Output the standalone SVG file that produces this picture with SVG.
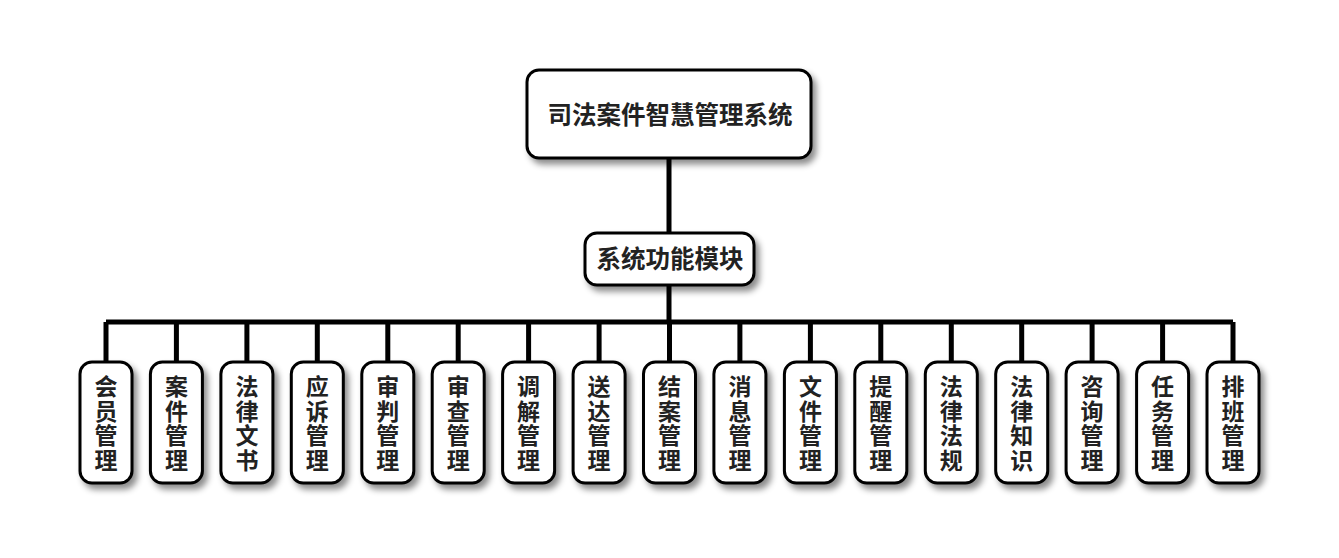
<svg xmlns="http://www.w3.org/2000/svg" width="1339" height="558" viewBox="0 0 1339 558">
<defs>
<filter id="sh" x="-30%" y="-30%" width="160%" height="160%">
<feDropShadow dx="4" dy="5" stdDeviation="3" flood-color="#000" flood-opacity="0.45"/>
</filter>
<style>
.box{fill:#fff;stroke:#000;stroke-width:3;filter:url(#sh)}
.t{font-family:"Liberation Sans","Noto Sans CJK SC",sans-serif;font-weight:bold;fill:#222;text-anchor:middle}
.leaf{font-size:23px}
.ln{stroke:#000;stroke-width:5;fill:none}
</style>
</defs>
<rect width="1339" height="558" fill="#fff"/>
<g id="connectors">
<path class="ln" d="M669 158V233M669 285V322M106 322H1233"/>
<path class="ln" d="M106 322V362M176.4 322V362M246.9 322V362M317.3 322V362M387.8 322V362M458.2 322V362M528.6 322V362M599.1 322V362M669.5 322V362M739.9 322V362M810.4 322V362M880.8 322V362M951.3 322V362M1021.7 322V362M1092.1 322V362M1162.6 322V362M1233 322V362"/>
</g>
<g id="root"><rect class="box" x="527" y="70" width="284" height="88" rx="12"/><text class="t" x="670" y="123.5" font-size="24.5">司法案件智慧管理系统</text></g>
<g id="mid"><rect class="box" x="585" y="233" width="169" height="52" rx="12"/><text class="t" x="670" y="268" font-size="24.5">系统功能模块</text></g>
<g id="n1"><rect class="box" x="80" y="362" width="52" height="121" rx="12"/><text class="t leaf"><tspan x="106" y="395">会</tspan><tspan x="106" y="419.5">员</tspan><tspan x="106" y="444">管</tspan><tspan x="106" y="468.5">理</tspan></text></g>
<g id="n2"><rect class="box" x="150.4" y="362" width="52" height="121" rx="12"/><text class="t leaf"><tspan x="176.4" y="395">案</tspan><tspan x="176.4" y="419.5">件</tspan><tspan x="176.4" y="444">管</tspan><tspan x="176.4" y="468.5">理</tspan></text></g>
<g id="n3"><rect class="box" x="220.9" y="362" width="52" height="121" rx="12"/><text class="t leaf"><tspan x="246.9" y="395">法</tspan><tspan x="246.9" y="419.5">律</tspan><tspan x="246.9" y="444">文</tspan><tspan x="246.9" y="468.5">书</tspan></text></g>
<g id="n4"><rect class="box" x="291.3" y="362" width="52" height="121" rx="12"/><text class="t leaf"><tspan x="317.3" y="395">应</tspan><tspan x="317.3" y="419.5">诉</tspan><tspan x="317.3" y="444">管</tspan><tspan x="317.3" y="468.5">理</tspan></text></g>
<g id="n5"><rect class="box" x="361.8" y="362" width="52" height="121" rx="12"/><text class="t leaf"><tspan x="387.8" y="395">审</tspan><tspan x="387.8" y="419.5">判</tspan><tspan x="387.8" y="444">管</tspan><tspan x="387.8" y="468.5">理</tspan></text></g>
<g id="n6"><rect class="box" x="432.2" y="362" width="52" height="121" rx="12"/><text class="t leaf"><tspan x="458.2" y="395">审</tspan><tspan x="458.2" y="419.5">查</tspan><tspan x="458.2" y="444">管</tspan><tspan x="458.2" y="468.5">理</tspan></text></g>
<g id="n7"><rect class="box" x="502.6" y="362" width="52" height="121" rx="12"/><text class="t leaf"><tspan x="528.6" y="395">调</tspan><tspan x="528.6" y="419.5">解</tspan><tspan x="528.6" y="444">管</tspan><tspan x="528.6" y="468.5">理</tspan></text></g>
<g id="n8"><rect class="box" x="573.1" y="362" width="52" height="121" rx="12"/><text class="t leaf"><tspan x="599.1" y="395">送</tspan><tspan x="599.1" y="419.5">达</tspan><tspan x="599.1" y="444">管</tspan><tspan x="599.1" y="468.5">理</tspan></text></g>
<g id="n9"><rect class="box" x="643.5" y="362" width="52" height="121" rx="12"/><text class="t leaf"><tspan x="669.5" y="395">结</tspan><tspan x="669.5" y="419.5">案</tspan><tspan x="669.5" y="444">管</tspan><tspan x="669.5" y="468.5">理</tspan></text></g>
<g id="n10"><rect class="box" x="713.9" y="362" width="52" height="121" rx="12"/><text class="t leaf"><tspan x="739.9" y="395">消</tspan><tspan x="739.9" y="419.5">息</tspan><tspan x="739.9" y="444">管</tspan><tspan x="739.9" y="468.5">理</tspan></text></g>
<g id="n11"><rect class="box" x="784.4" y="362" width="52" height="121" rx="12"/><text class="t leaf"><tspan x="810.4" y="395">文</tspan><tspan x="810.4" y="419.5">件</tspan><tspan x="810.4" y="444">管</tspan><tspan x="810.4" y="468.5">理</tspan></text></g>
<g id="n12"><rect class="box" x="854.8" y="362" width="52" height="121" rx="12"/><text class="t leaf"><tspan x="880.8" y="395">提</tspan><tspan x="880.8" y="419.5">醒</tspan><tspan x="880.8" y="444">管</tspan><tspan x="880.8" y="468.5">理</tspan></text></g>
<g id="n13"><rect class="box" x="925.3" y="362" width="52" height="121" rx="12"/><text class="t leaf"><tspan x="951.3" y="395">法</tspan><tspan x="951.3" y="419.5">律</tspan><tspan x="951.3" y="444">法</tspan><tspan x="951.3" y="468.5">规</tspan></text></g>
<g id="n14"><rect class="box" x="995.7" y="362" width="52" height="121" rx="12"/><text class="t leaf"><tspan x="1021.7" y="395">法</tspan><tspan x="1021.7" y="419.5">律</tspan><tspan x="1021.7" y="444">知</tspan><tspan x="1021.7" y="468.5">识</tspan></text></g>
<g id="n15"><rect class="box" x="1066.1" y="362" width="52" height="121" rx="12"/><text class="t leaf"><tspan x="1092.1" y="395">咨</tspan><tspan x="1092.1" y="419.5">询</tspan><tspan x="1092.1" y="444">管</tspan><tspan x="1092.1" y="468.5">理</tspan></text></g>
<g id="n16"><rect class="box" x="1136.6" y="362" width="52" height="121" rx="12"/><text class="t leaf"><tspan x="1162.6" y="395">任</tspan><tspan x="1162.6" y="419.5">务</tspan><tspan x="1162.6" y="444">管</tspan><tspan x="1162.6" y="468.5">理</tspan></text></g>
<g id="n17"><rect class="box" x="1207" y="362" width="52" height="121" rx="12"/><text class="t leaf"><tspan x="1233" y="395">排</tspan><tspan x="1233" y="419.5">班</tspan><tspan x="1233" y="444">管</tspan><tspan x="1233" y="468.5">理</tspan></text></g>
</svg>
